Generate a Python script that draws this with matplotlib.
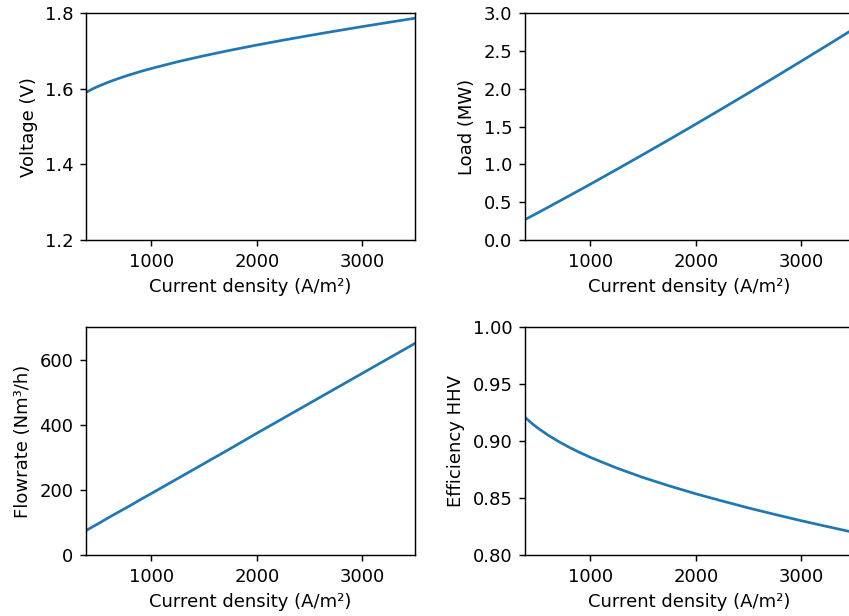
import numpy as np
import matplotlib.pyplot as plt

# densidad de corriente (A/m2) y resultados del electrolizador
densidad = [380, 450, 500, 600, 700, 800, 900, 1000, 1250, 1500, 1750, 2000, 2250, 2500, 2750, 3000, 3250, 3500]
voltaje = [1.5910, 1.6009, 1.6072, 1.6186, 1.6286, 1.6378, 1.6462, 1.6540, 1.6718, 1.6877, 1.7023, 1.7160,
           1.7289, 1.7413, 1.7532, 1.7648, 1.7760, 1.7870]
carga = [0.270, 0.322, 0.359, 0.434, 0.510, 0.586, 0.662, 0.739, 0.934, 1.132, 1.331, 1.534,
         1.739, 1.946, 2.155, 2.367, 2.580, 2.796]
flujo = [75, 88, 97, 116, 134, 152, 171, 189, 235, 281, 327, 374, 420, 466, 512, 558, 604, 650]
eficiencia = [0.9208, 0.9151, 0.9115, 0.9051, 0.8995, 0.8945, 0.8899, 0.8857, 0.8763, 0.8680, 0.8606, 0.8537,
              0.8474, 0.8413, 0.8356, 0.8301, 0.8249, 0.8198]

xlabel = 'Current density (A/m²)'

fig = plt.figure(figsize=(849 / 130, 616 / 130), dpi=130)

# posiciones de los 4 ejes (la columna derecha se sale un poco del borde)
ax1 = fig.add_axes([0.1013, 0.6104, 0.3875, 0.368])
ax2 = fig.add_axes([0.6184, 0.6104, 0.3875, 0.368])
ax3 = fig.add_axes([0.1013, 0.0990, 0.3875, 0.370])
ax4 = fig.add_axes([0.6184, 0.0990, 0.3875, 0.370])

ax1.plot(densidad, voltaje)
ax1.set_ylim(1.2, 1.8)
ax1.set_yticks([1.2, 1.4, 1.6, 1.8])
ax1.set_ylabel('Voltage (V)')

ax2.plot(densidad, carga)
ax2.set_ylim(0, 3.0)
ax2.set_ylabel('Load (MW)')

ax3.plot(densidad, flujo)
ax3.set_ylim(0, 700)
ax3.set_yticks([0, 200, 400, 600])
ax3.set_ylabel('Flowrate (Nm³/h)')

ax4.plot(densidad, eficiencia)
ax4.set_ylim(0.80, 1.00)
ax4.set_yticks([0.80, 0.85, 0.90, 0.95, 1.00])
ax4.set_ylabel('Efficiency HHV')

for ax in [ax1, ax2, ax3, ax4]:
    ax.set_xlim(380, 3500)
    ax.set_xticks([1000, 2000, 3000])
    ax.set_xlabel(xlabel)

fig.savefig('out.png', dpi=130)
